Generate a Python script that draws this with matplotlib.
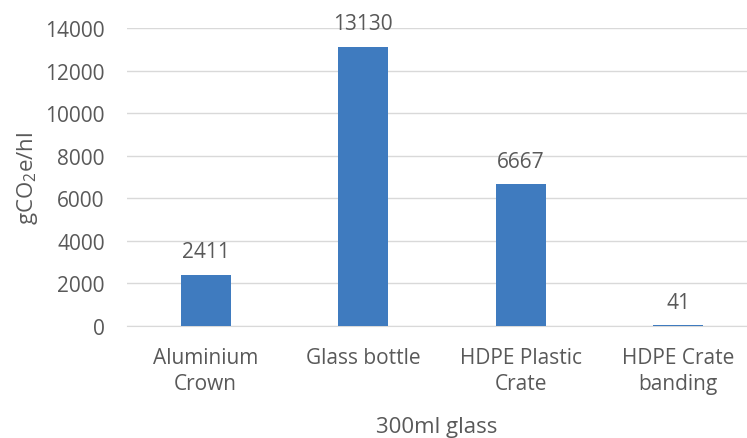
import matplotlib.pyplot as plt

plt.rcParams['font.family'] = ['Open Sans', 'DejaVu Sans']
plt.rcParams['mathtext.fontset'] = 'custom'
plt.rcParams['mathtext.rm'] = 'Open Sans'
plt.rcParams['mathtext.it'] = 'Open Sans:italic'

categories = ['Aluminium\nCrown', 'Glass bottle', 'HDPE Plastic\nCrate', 'HDPE Crate\nbanding']
values = [2411, 13130, 6667, 41]
yticks = [0, 2000, 4000, 6000, 8000, 10000, 12000, 14000]

txt = '#595959'
fig = plt.figure(figsize=(7.47, 4.39), dpi=100)
ax = fig.add_axes([127 / 747, (439 - 327) / 439, 620 / 747, 298 / 439])

x = range(len(categories))
bars = ax.bar(x, values, width=0.317, color='#3f7bbf', zorder=3)
for b, v in zip(bars, values):
    ax.annotate(str(v), (b.get_x() + b.get_width() / 2, v), xytext=(0, 9),
                textcoords='offset points', ha='center', va='bottom',
                fontsize=15, color=txt)

ax.set_xlim(-0.5, 3.437)
ax.set_ylim(0, 14000)
ax.set_yticks(yticks)
ax.set_yticklabels([str(t) for t in yticks])
ax.set_xticks(list(x))
ax.set_xticklabels(categories, linespacing=1.3)
ax.grid(axis='y', color='#d9d9d9', linewidth=1, zorder=0)
for s in ['top', 'right', 'left']:
    ax.spines[s].set_visible(False)
ax.spines['bottom'].set_color('#d9d9d9')
ax.tick_params(axis='both', length=0, labelsize=15, colors=txt)
ax.tick_params(axis='y', pad=16)
ax.tick_params(axis='x', pad=15)
ax.set_xlabel('300ml glass', fontsize=16, color=txt, labelpad=16)
ax.set_ylabel('gCO$_2$e/hl', fontsize=16, color=txt, labelpad=4)

fig.savefig('out.png', dpi=100)
